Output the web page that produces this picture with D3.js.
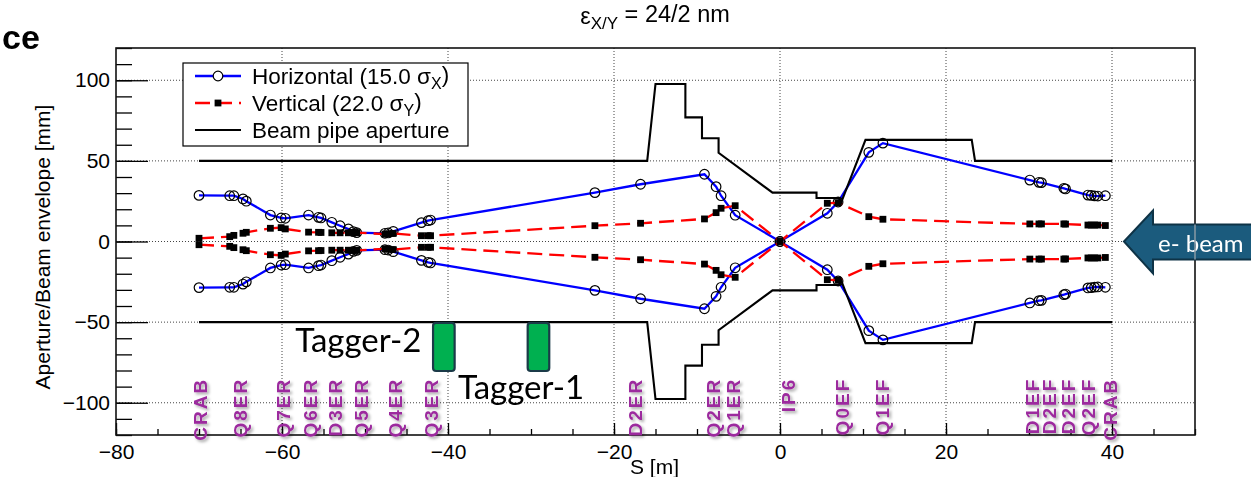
<!DOCTYPE html>
<html>
<head>
<meta charset="utf-8">
<script src="https://cdn.jsdelivr.net/npm/d3@7"></script>
<style>
  body { margin: 0; background: #fff; }
  svg { display: block; }
</style>
</head>
<body>
<svg id="chart" width="1251" height="477"></svg>
<script>
// ---- Optics data: element positions S [m] and beam envelope half-widths [mm]
const optS     = [-70.0,-66.3,-65.8,-64.7,-64.3,-61.4,-60.1,-59.6,-56.8,-55.6,-55.3,-54.0,-53.0,-52.0,-51.4,-51.0,-47.6,-47.2,-46.6,-43.2,-42.4,-42.1,-22.3,-16.8,-9.1,-7.7,-7.1,-5.4,0.0,5.7,7.0,10.7,12.4,30.1,31.2,31.5,34.2,34.4,37.1,37.5,37.9,38.3,39.2];
const envX     = [28.6,28.4,28.4,26.4,25.0,16.4,14.6,14.4,16.4,15.0,14.6,11.9,9.8,7.8,6.1,5.5,5.1,5.3,6.3,11.7,12.9,13.3,30.3,35.5,41.7,34.0,28.4,16.3,0.0,17.5,24.5,55.3,61.0,38.1,36.7,36.5,33.0,32.6,28.8,28.6,28.3,28.2,28.4];
const envY     = [2.0,3.0,3.8,5.1,5.7,8.2,8.6,7.8,5.8,5.7,5.6,5.4,5.4,5.4,5.6,5.5,4.6,4.8,5.0,3.6,3.6,3.6,9.8,11.3,14.0,17.9,20.6,22.2,0.0,23.7,24.1,15.4,13.8,10.9,10.9,10.9,10.9,10.8,10.2,10.2,10.2,10.2,9.9];

// ---- Beam pipe aperture (symmetric), S [m] and radius [mm]
const apertureS = [-70,-16.0,-15.0,-11.4,-11.4,-9.4,-9.4,-7.4,-7.4,-0.9,4.4,4.4,7.2,7.2,10.3,23.1,23.5,40];
const apertureR = [50,50,97.7,97.7,77,77,64,64,55,30.3,30.3,27,27,22,63,63,50,50];

// ---- Magnet / element labels along the beamline
const elementNames = ["CRAB","Q8ER","Q7ER","Q6ER","D3ER","Q5ER","Q4ER","Q3ER","D2ER","Q2ER","Q1ER","IP6","Q0EF","Q1EF","D1EF","D2EF","D2EF","Q2EF","CRAB"];
const elementS     = [-69.9,-65.0,-59.9,-56.6,-53.6,-50.5,-46.4,-42.0,-17.4,-8.05,-5.6,1.0,7.5,12.3,30.4,32.4,34.7,37.1,39.8];

// ---- Tagger stations
const taggerNames = ["Tagger-2","Tagger-1"];
const taggerS     = [-40.5,-29.1];
const taggerTop   = -50.5;
const taggerBot   = -80.3;

// ---- Axis ticks
const xMajorTicks = [-80,-60,-40,-20,0,20,40];
const yMajorTicks = [-100,-50,0,50,100];

const svg = d3.select("#chart");
const W = 1251, H = 477;
const plot = { left: 116, right: 1195, top: 48, bottom: 435 };

const x = d3.scaleLinear().domain([-80, 50]).range([plot.left, plot.right]);
const y = d3.scaleLinear().domain([-120, 120]).range([plot.bottom, plot.top]);

const FONT = "'Liberation Sans', Arial, Helvetica, sans-serif";
const SLIDE_FONT = "Lato, 'Open Sans', sans-serif";

// shadow for the element labels
const defs = svg.append("defs");
const shadow = defs.append("filter").attr("id", "lblShadow")
  .attr("x", "-30%").attr("y", "-30%").attr("width", "160%").attr("height", "160%");
shadow.append("feDropShadow").attr("dx", 2).attr("dy", 2)
  .attr("stdDeviation", 1.6).attr("flood-color", "#000").attr("flood-opacity", 0.35);

svg.append("rect").attr("width", W).attr("height", H).attr("fill", "#fff");

// ---- Grid (dotted)
const grid = svg.append("g").attr("stroke", "#444").attr("stroke-width", 1)
  .attr("stroke-dasharray", "1,2");
grid.selectAll("line.gx").data(xMajorTicks.filter(d => d > -80))
  .join("line").attr("x1", d => x(d)).attr("x2", d => x(d))
  .attr("y1", plot.top).attr("y2", plot.bottom);
grid.selectAll("line.gy").data(yMajorTicks)
  .join("line").attr("class", "gy").attr("y1", d => y(d)).attr("y2", d => y(d))
  .attr("x1", plot.left).attr("x2", plot.right);

// ---- Axes (ticks pointing inward)
const xMinor = d3.range(-80, 51, 5);
const yMinor = d3.range(-120, 121, 10);

const gxMinor = svg.append("g").attr("transform", `translate(0,${plot.bottom})`)
  .call(d3.axisBottom(x).tickValues(xMinor).tickSize(-6).tickFormat(""));
const gx = svg.append("g").attr("transform", `translate(0,${plot.bottom})`)
  .call(d3.axisBottom(x).tickValues(xMajorTicks).tickSize(-12).tickPadding(9));
const gyMinor = svg.append("g").attr("transform", `translate(${plot.left},0)`)
  .call(d3.axisLeft(y).tickValues(yMinor).tickSize(-16).tickFormat(""));
const gy = svg.append("g").attr("transform", `translate(${plot.left},0)`)
  .call(d3.axisLeft(y).tickValues(yMajorTicks).tickSize(-32).tickPadding(6));

[gxMinor, gx, gyMinor, gy].forEach(g => {
  g.select(".domain").remove();
  g.selectAll(".tick line").attr("stroke", "#000").attr("stroke-width", 1.3);
  g.selectAll(".tick text").attr("font-family", FONT).attr("font-size", 21).attr("fill", "#000");
});

// ---- Frame
svg.append("rect")
  .attr("x", plot.left).attr("y", plot.top)
  .attr("width", plot.right - plot.left).attr("height", plot.bottom - plot.top)
  .attr("fill", "none").attr("stroke", "#111").attr("stroke-width", 1.6);

// ---- Element labels
svg.append("g").attr("filter", "url(#lblShadow)")
  .selectAll("text").data(elementNames).join("text")
  .attr("transform", (d, i) => `translate(${x(elementS[i])},${y(-84.5)}) rotate(-90)`)
  .attr("dy", "0.36em")
  .attr("text-anchor", "end")
  .attr("font-family", FONT).attr("font-weight", "bold").attr("font-size", 19)
  .attr("letter-spacing", 2)
  .attr("fill", "#9c2a9e")
  .text(d => d);

// ---- Beam envelopes
const idx = d3.range(optS.length);
function drawEnvelope(vals, sign, color, dash, marker) {
  const line = d3.line().x(i => x(optS[i])).y(i => y(sign * vals[i]));
  svg.append("path").datum(idx).attr("d", line)
    .attr("fill", "none").attr("stroke", color).attr("stroke-width", 2.3)
    .attr("stroke-dasharray", dash);
  const g = svg.append("g");
  if (marker === "circle") {
    g.selectAll("circle").data(idx).join("circle")
      .attr("cx", i => x(optS[i])).attr("cy", i => y(sign * vals[i])).attr("r", 4.8)
      .attr("fill", "none").attr("stroke", "#000").attr("stroke-width", 1.2);
  } else {
    g.selectAll("rect").data(idx).join("rect")
      .attr("x", i => x(optS[i]) - 3.4).attr("y", i => y(sign * vals[i]) - 3.4)
      .attr("width", 6.8).attr("height", 6.8).attr("fill", "#000");
  }
}
[1, -1].forEach(sg => drawEnvelope(envX, sg, "#0000ff", null, "circle"));
[1, -1].forEach(sg => drawEnvelope(envY, sg, "#ff0000", "15,7", "square"));

// ---- Beam pipe aperture
const apIdx = d3.range(apertureS.length);
[1, -1].forEach(sg => {
  svg.append("path").datum(apIdx)
    .attr("d", d3.line().x(i => x(apertureS[i])).y(i => y(sg * apertureR[i])))
    .attr("fill", "none").attr("stroke", "#000").attr("stroke-width", 2.1);
});

// ---- Legend
const lg = svg.append("g");
lg.append("rect").attr("x", 183).attr("y", 63).attr("width", 285).attr("height", 83)
  .attr("fill", "#fff").attr("stroke", "#000").attr("stroke-width", 1.2);
const rows = [76, 103, 130];
lg.append("line").attr("x1", 195).attr("x2", 241).attr("y1", rows[0]).attr("y2", rows[0])
  .attr("stroke", "#0000ff").attr("stroke-width", 2.3);
lg.append("circle").attr("cx", 218).attr("cy", rows[0]).attr("r", 4.8)
  .attr("fill", "#fff").attr("stroke", "#000").attr("stroke-width", 1.2);
lg.append("line").attr("x1", 195).attr("x2", 241).attr("y1", rows[1]).attr("y2", rows[1])
  .attr("stroke", "#ff0000").attr("stroke-width", 2.3).attr("stroke-dasharray", "15,7");
lg.append("rect").attr("x", 218 - 3.4).attr("y", rows[1] - 3.4).attr("width", 6.8).attr("height", 6.8)
  .attr("fill", "#000");
lg.append("line").attr("x1", 195).attr("x2", 241).attr("y1", rows[2]).attr("y2", rows[2])
  .attr("stroke", "#000").attr("stroke-width", 2.1);

function legendText(yy, main, sub, tail) {
  const t = lg.append("text").attr("x", 252).attr("y", yy).attr("dy", "0.36em")
    .attr("font-family", FONT).attr("font-size", 22.5).attr("fill", "#000");
  t.append("tspan").text(main);
  if (sub) {
    t.append("tspan").attr("font-size", 16).attr("dy", "0.3em").text(sub);
    t.append("tspan").attr("dy", "-0.3em").text(tail);
  }
}
legendText(rows[0], "Horizontal (15.0 σ", "X", ")");
legendText(rows[1], "Vertical (22.0 σ", "Y", ")");
legendText(rows[2], "Beam pipe aperture");

// ---- Taggers
const tg = svg.append("g");
tg.selectAll("rect").data(taggerS).join("rect")
  .attr("x", d => x(d - 1.3)).attr("y", y(taggerTop))
  .attr("width", d => x(d + 1.3) - x(d - 1.3)).attr("height", y(taggerBot) - y(taggerTop))
  .attr("rx", 3).attr("fill", "#00b050").attr("stroke", "#1b3a48").attr("stroke-width", 2.2);
tg.append("text").attr("x", x(-43.2)).attr("y", y(-68.5)).attr("text-anchor", "end")
  .attr("font-family", SLIDE_FONT).attr("font-size", 33).attr("fill", "#000")
  .text(taggerNames[0]);
tg.append("text").attr("x", x(-38.8)).attr("y", y(-97.7)).attr("text-anchor", "start")
  .attr("font-family", SLIDE_FONT).attr("font-size", 33).attr("fill", "#000")
  .text(taggerNames[1]);

// ---- Title
const title = svg.append("text").attr("x", 655).attr("y", 24).attr("text-anchor", "middle")
  .attr("font-family", FONT).attr("font-size", 23.5).attr("fill", "#000");
title.append("tspan").text("ε");
title.append("tspan").attr("font-size", 17).attr("dy", "0.3em").text("X/Y");
title.append("tspan").attr("dy", "-0.3em").text(" = 24/2 nm");

// ---- Axis titles
svg.append("text").attr("transform", `translate(50,247) rotate(-90)`).attr("text-anchor", "middle")
  .attr("font-family", FONT).attr("font-size", 21).attr("fill", "#000")
  .text("Aperture/Beam envelope [mm]");
svg.append("text").attr("x", 630).attr("y", 474)
  .attr("font-family", FONT).attr("font-size", 21).attr("fill", "#000")
  .text("S [m]");

// ---- Cropped heading fragment at top left
svg.append("text").attr("x", 2).attr("y", 49)
  .attr("font-family", FONT).attr("font-weight", "bold").attr("font-size", 34).attr("fill", "#000")
  .text("ce");

// ---- Beam direction arrow
const y0 = y(0);
const arrow = svg.append("g");
arrow.append("path")
  .attr("d", `M${1124},${y0} L${1153},${y0 - 31} L${1153},${y0 - 17} L${1253},${y0 - 17} L${1253},${y0 + 18} L${1153},${y0 + 18} L${1153},${y0 + 32} Z`)
  .attr("fill", "#1b5b7d").attr("stroke", "#0e3346").attr("stroke-width", 2);
arrow.append("text").attr("x", 1158).attr("y", y0 + 10)
  .attr("font-family", SLIDE_FONT).attr("font-size", 24).attr("fill", "#fff")
  .text("e- beam");
// frame edge visible through the arrow
svg.append("line").attr("x1", plot.right).attr("x2", plot.right)
  .attr("y1", y0 - 17).attr("y2", y0 + 18)
  .attr("stroke", "#8a9aa4").attr("stroke-width", 1.5);
</script>
</body>
</html>
